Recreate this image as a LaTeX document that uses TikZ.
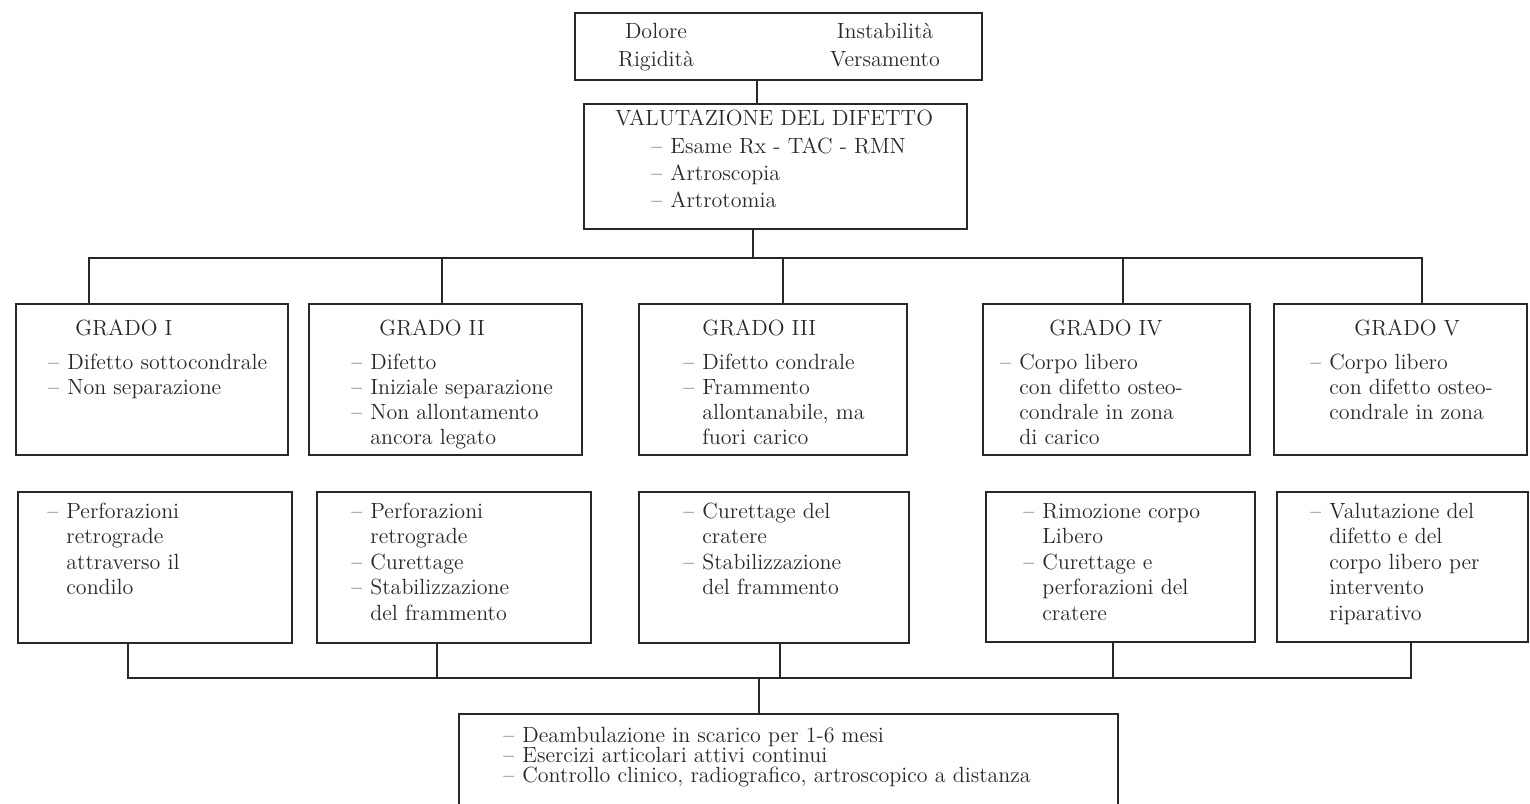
\documentclass[tikz,border=0pt]{standalone}
\definecolor{ink}{RGB}{40,40,40}
\newcommand{\itm}{\makebox[9.5pt][l]{\textendash}}
\newcommand{\cnt}{\hspace*{9.5pt}}

\begin{document}
\begin{tikzpicture}[x=0.5pt,y=-0.5pt]
  \tikzset{box/.style 2 args={draw=ink,line width=1pt,anchor=north west,inner sep=0pt,
             minimum width=#1*0.5pt,minimum height=#2*0.5pt},
           txt/.style={align=left,anchor=base west,inner sep=0pt,text=ink,
             font=\fontsize{11}{12.5}\selectfont},
           link/.style={draw=ink,line width=0.8pt}}
  \clip (0,0) rectangle (1530,803);
  \fill[white] (0,0) rectangle (1530,803);
  % boxes
  \node[box={407}{67}] (sym) at (574,12) {};
  \node[box={383}{125}] (val) at (583,103) {};
  \node[box={272}{151}] (g1) at (15,303) {};
  \node[box={273}{151}] (g2) at (308,303) {};
  \node[box={268}{151}] (g3) at (638,303) {};
  \node[box={267}{151}] (g4) at (982,303) {};
  \node[box={253}{151}] (g5) at (1273,303) {};
  \node[box={274}{151}] (t1) at (17,491) {};
  \node[box={274}{151}] (t2) at (316,491) {};
  \node[box={270}{151}] (t3) at (638,491) {};
  \node[box={269}{150}] (t4) at (985,491) {};
  \node[box={251}{150}] (t5) at (1276,491) {};
  \node[box={659}{130}] (fin) at (458,713) {};
  % texts (base = last line)
  \node[txt,anchor=base,align=center,font=\fontsize{11}{13.5}\selectfont] (sym1) at (656,66) {Dolore\\Rigidità};
  \node[txt,anchor=base,align=center,font=\fontsize{11}{13.5}\selectfont] (sym2) at (885,66) {Instabilità\\Versamento};
  \node[txt] (valh) at (615,125) {VALUTAZIONE DEL DIFETTO};
  \node[txt,font=\fontsize{11}{13.5}\selectfont] (vali) at (651,207)
    {\itm Esame Rx - TAC - RMN\\ \itm Artroscopia\\ \itm Artrotomia};
  \node[txt] (g1h) at (75,335) {GRADO I};
  \node[txt] (g2h) at (379,335) {GRADO II};
  \node[txt] (g3h) at (702,335) {GRADO III};
  \node[txt] (g4h) at (1049,335) {GRADO IV};
  \node[txt] (g5h) at (1354,335) {GRADO V};
  \node[txt] (g1i) at (48,394) {\itm Difetto sottocondrale\\ \itm Non separazione};
  \node[txt] (g2i) at (351,444)
    {\itm Difetto\\ \itm Iniziale separazione\\ \itm Non allontamento\\ \cnt ancora legato};
  \node[txt] (g3i) at (683,444)
    {\itm Difetto condrale\\ \itm Frammento\\ \cnt allontanabile, ma\\ \cnt fuori carico};
  \node[txt] (g4i) at (1000,444)
    {\itm Corpo libero\\ \cnt con difetto osteo-\\ \cnt condrale in zona\\ \cnt di carico};
  \node[txt] (g5i) at (1310,419)
    {\itm Corpo libero\\ \cnt con difetto osteo-\\ \cnt condrale in zona};
  \tikzset{txt/.append style={font=\fontsize{11}{12.75}\selectfont}}
  \node[txt] (t1i) at (47,594.5)
    {\itm Perforazioni\\ \cnt retrograde\\ \cnt attraverso il\\ \cnt condilo};
  \node[txt] (t2i) at (351,620)
    {\itm Perforazioni\\ \cnt retrograde\\ \itm Curettage\\ \itm Stabilizzazione\\ \cnt del frammento};
  \node[txt] (t3i) at (683,594.5)
    {\itm Curettage del\\ \cnt cratere\\ \itm Stabilizzazione\\ \cnt del frammento};
  \node[txt] (t4i) at (1023,620)
    {\itm Rimozione corpo\\ \cnt Libero\\ \itm Curettage e\\ \cnt perforazioni del\\ \cnt cratere};
  \node[txt] (t5i) at (1310,620)
    {\itm Valutazione del\\ \cnt difetto e del\\ \cnt corpo libero per\\ \cnt intervento\\ \cnt riparativo};
  \node[txt,font=\fontsize{11}{10}\selectfont] (fini) at (503,782)
    {\itm Deambulazione in scarico per 1-6 mesi\\ \itm Esercizi articolari attivi continui\\
     \itm Controllo clinico, radiografico, artroscopico a distanza};
  % connectors
  \coordinate (s0) at (757,0);
  \coordinate (u0) at (753,258);
  \coordinate (u1) at (89,258);
  \coordinate (u2) at (442,258);
  \coordinate (u3) at (783,258);
  \coordinate (u4) at (1123,258);
  \coordinate (u5) at (1422,258);
  \coordinate (l0) at (759,678);
  \coordinate (l1) at (128,678);
  \coordinate (l2) at (437,678);
  \coordinate (l3) at (780,678);
  \coordinate (l4) at (1113,678);
  \coordinate (l5) at (1411,678);
  \draw[link] (sym.south -| s0) -- (val.north -| s0);
  \draw[link] (val.south -| u0) -- (u0);
  \draw[link] (u1 |- g1.north) -- (u1) -- (u5) -- (u5 |- g5.north);
  \foreach \i in {2,3,4}
    \draw[link] (u\i) -- (u\i |- g\i.north);
  \draw[link] (t1.south -| l1) -- (l1) -- (l5) -- (t5.south -| l5);
  \foreach \i in {2,3,4}
    \draw[link] (t\i.south -| l\i) -- (l\i);
  \draw[link] (l0) -- (l0 |- fin.north);
\end{tikzpicture}
\end{document}
